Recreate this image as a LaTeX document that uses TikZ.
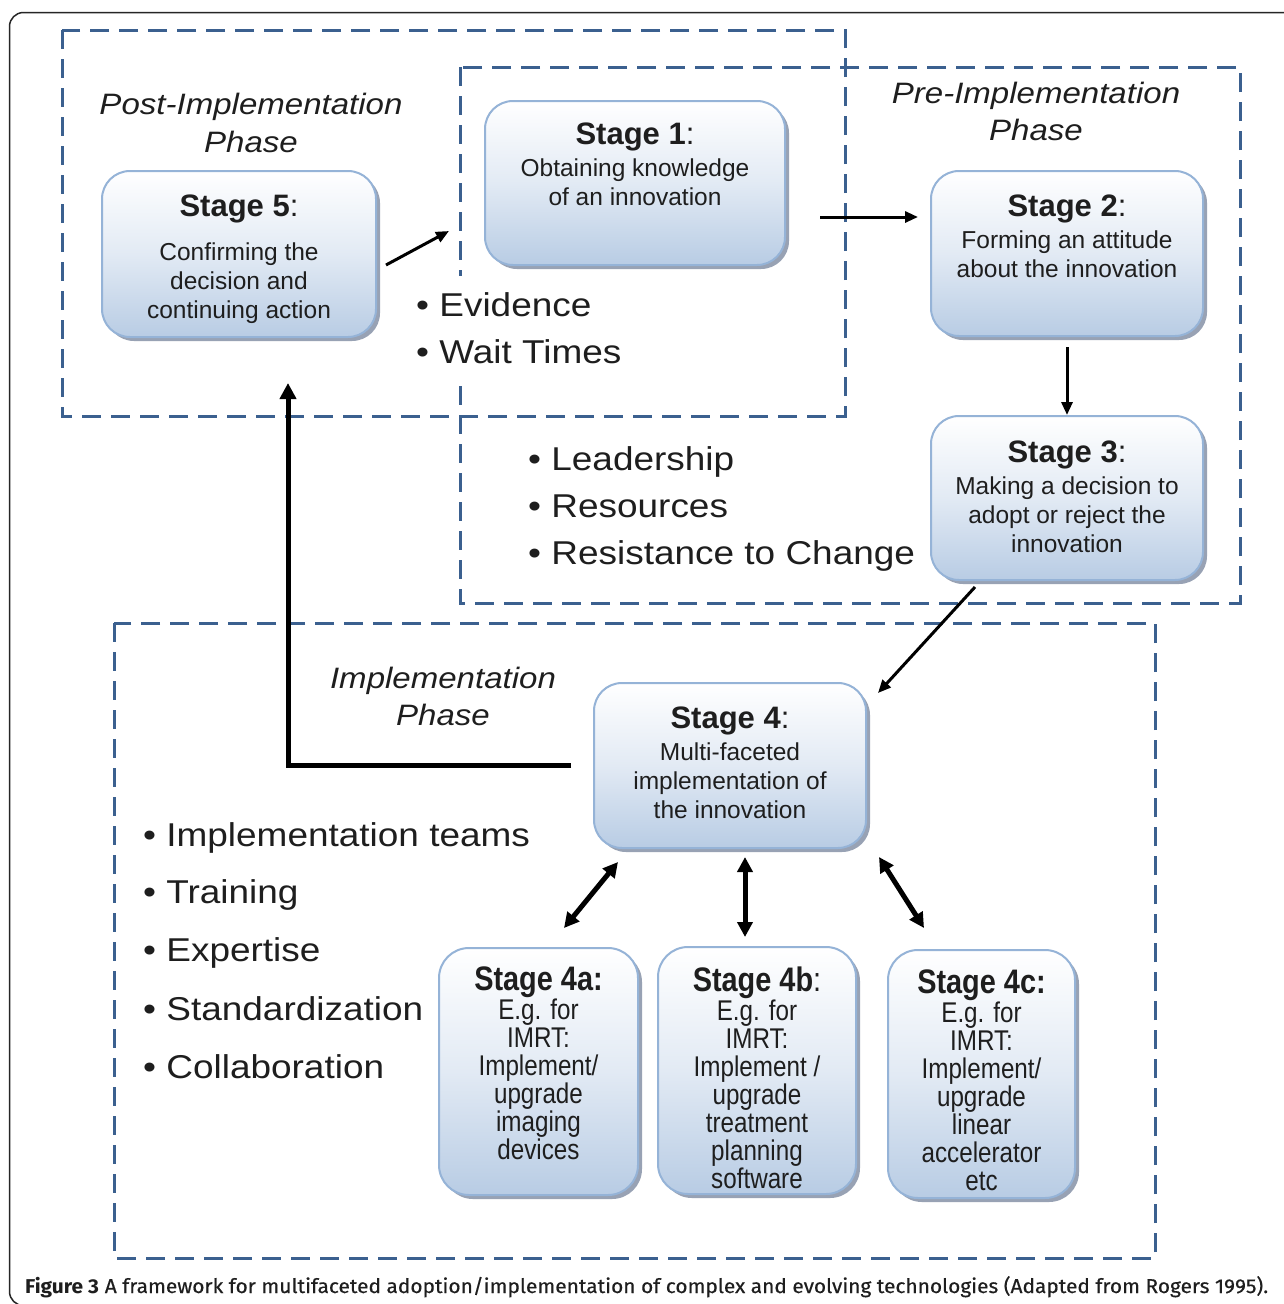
\documentclass[tikz,border=0pt]{standalone}
\usepackage{fontspec}
\usepackage{graphicx}
\setmainfont{Liberation Sans}
\newfontfamily\widefont[FakeStretch=1.12]{Liberation Sans}
\newfontfamily\narrowfont[FakeStretch=0.85]{Liberation Sans}
\newfontfamily\capfont[FakeBold=0.4]{Fira Sans}
\newfontfamily\capfontb{Fira Sans}
\usetikzlibrary{arrows.meta,shadows}
\definecolor{dashblue}{HTML}{3B608F}
\definecolor{boxedge}{HTML}{95B3D7}
\definecolor{boxblue}{HTML}{B8CCE4}
\definecolor{boxmid}{HTML}{E2EAF4}
\definecolor{shadowgray}{HTML}{98A2B4}
\definecolor{textdark}{HTML}{1E1E1E}
\newcommand\boxtext[4]{\parbox[c][#2][t]{#1}{\centering\vspace*{#3}#4}}
\newcommand\ttl[2]{{\fontsize{31}{32}\selectfont\textbf{#1}#2\par}}
\newcommand\dsc[1]{{\fontsize{24.5}{29}\selectfont #1\par}}
\newcommand\sttl[2]{{\narrowfont\fontsize{34}{35}\selectfont\textbf{#1}#2\par}}
\newcommand\sdsc[1]{{\narrowfont\fontsize{28.5}{28}\selectfont #1\par}}
\tikzset{
  stagebox/.style={draw=boxedge, line width=2pt, rounded corners=28pt,
    top color=white, bottom color=boxblue, middle color=boxmid,
    inner sep=0pt, outer sep=0pt, text=textdark,
    drop shadow={shadow xshift=4pt, shadow yshift=-4pt, fill=shadowgray, opacity=1}},
  subbox/.style={stagebox, rounded corners=30pt},
  phasebox/.style={draw=dashblue, line width=3pt, dash pattern=on 19pt off 10pt},
  phasetitle/.style={font=\widefont\itshape\fontsize{29.5}{37.5}\selectfont, align=center, inner sep=0pt, text=textdark},
  bulletitem/.style={font=\widefont\fontsize{33}{40}\selectfont, text=textdark, anchor=base west, inner sep=0pt},
  thinarr/.style={line width=3pt, -{Triangle[length=13pt,width=11pt]}},
  thickarr/.style={line width=5pt, -{Triangle[length=16pt,width=16pt]}},
  dblarr/.style={line width=5pt, {Triangle[length=15pt,width=15pt]}-{Triangle[length=15pt,width=15pt]}},
}
\begin{document}
\begin{tikzpicture}[x=1pt,y=-1pt]
\useasboundingbox (0,0) rectangle (1284,1304);
\clip (0,0) rectangle (1284,1304);
\fill[white] (0,0) rectangle (1284,1304);
% outer frame
\draw[line width=1.5pt, draw=black!85, rounded corners=14pt] (9.5,12.5) rectangle (1320,1305.5);
% phase boxes
\draw[phasebox] (62,30) rectangle (845,416);
\draw[phasebox] (460,67) rectangle (1240,603);
\draw[phasebox] (114,623) rectangle (1155,1258);
% phase titles
\node[phasetitle] (tpost) at (251,122.75) {Post-Implementation\\Phase};
\node[phasetitle] (tpre) at (1036,111.25) {Pre-Implementation\\Phase};
\node[phasetitle] (timpl) at (443,696.25) {Implementation\\Phase};
% stage boxes
\node[stagebox] (s1) at (635,183) {\boxtext{300pt}{164pt}{21.5pt}{\ttl{Stage 1}{:}\vspace{3pt}\dsc{Obtaining knowledge\\of an innovation}}};
\node[stagebox] (s2) at (1067,253.5) {\boxtext{272pt}{165pt}{23.5pt}{\ttl{Stage 2}{:}\vspace{3pt}\dsc{Forming an attitude\\about the innovation}}};
\node[stagebox] (s3) at (1067,498) {\boxtext{272pt}{164pt}{24.5pt}{\ttl{Stage 3}{:}\vspace{3pt}\dsc{Making a decision to\\adopt or reject the\\innovation}}};
\node[stagebox] (s5) at (239,254) {\boxtext{274pt}{166pt}{23.5pt}{\ttl{Stage 5}{:}\vspace{15pt}\dsc{Confirming the\\decision and\\continuing action}}};
\node[stagebox] (s4) at (730,765.5) {\boxtext{272pt}{165pt}{23.5pt}{\ttl{Stage 4}{:}\vspace{3pt}\dsc{Multi-faceted\\implementation of\\the innovation}}};
\node[subbox] (s4a) at (538.5,1071.5) {\boxtext{199pt}{247pt}{18.5pt}{\sttl{Stage 4a:}{}\vspace{1pt}\sdsc{E.g. for\\IMRT:\\Implement/\\upgrade\\imaging\\devices}}};
\node[subbox] (s4b) at (757,1070.5) {\boxtext{198pt}{247pt}{19.5pt}{\sttl{Stage 4b}{:}\vspace{1pt}\sdsc{E.g. for\\IMRT:\\Implement /\\upgrade\\treatment\\planning\\software}}};
\node[subbox] (s4c) at (981.5,1074) {\boxtext{187pt}{248pt}{19.5pt}{\sttl{Stage 4c:}{}\vspace{1pt}\sdsc{E.g. for\\IMRT:\\Implement/\\upgrade\\linear\\accelerator\\etc}}};
% bullet lists
\node[font=\widefont\fontsize{33}{47}\selectfont, text=textdark, fill=white, align=left, anchor=west,
  inner xsep=4pt, inner ysep=17pt] (bev) at (412,328.5) {• Evidence\\• Wait Times};
\node[bulletitem] (bld) at (528,470) {• Leadership};
\node[bulletitem] (brs) at (528,517) {• Resources};
\node[bulletitem] (brc) at (528,564) {• Resistance to Change};
\node[bulletitem] (bit) at (143,846) {• Implementation teams};
\node[bulletitem] (btr) at (143,903) {• Training};
\node[bulletitem] (bex) at (143,961) {• Expertise};
\node[bulletitem] (bst) at (143,1020) {• Standardization};
\node[bulletitem] (bco) at (143,1078) {• Collaboration};
% connectors
\draw[thinarr] ([shift={(10,11)}]s5.east) -- ([shift={(-36,48)}]s1.west);
\draw[thinarr] ([shift={(35,34)}]s1.east) -- ([shift={(-13,-36.5)}]s2.west);
\draw[thinarr] ([shift={(0,11)}]s2.south) -- ([shift={(0,-1)}]s3.north);
\draw[thinarr] ([shift={(-92,7)}]s3.south) -- ([shift={(12,10)}]s4.north east);
\draw[thickarr] ([shift={(-23,0)}]s4.west) -| ([shift={(49,46)}]s5.south);
\draw[dblarr] ([shift={(24,14)}]s4.south west) -- ([shift={(25.5,-20)}]s4a.north);
\draw[dblarr] ([shift={(15,9)}]s4.south) -- ([shift={(-12,-10)}]s4b.north);
\draw[dblarr] ([shift={(13,9)}]s4.south east) -- ([shift={(-57.5,-22)}]s4c.north);
% caption
\node[anchor=base west, inner sep=0pt, text=textdark] (cap) at (25,1293) {\resizebox{1243pt}{\height}{\fontsize{20}{24}\selectfont{\capfontb\bfseries Figure 3} {\capfont A framework for multifaceted adoption/implementation of complex and evolving technologies (Adapted from Rogers 1995).}}};
\end{tikzpicture}
\end{document}
